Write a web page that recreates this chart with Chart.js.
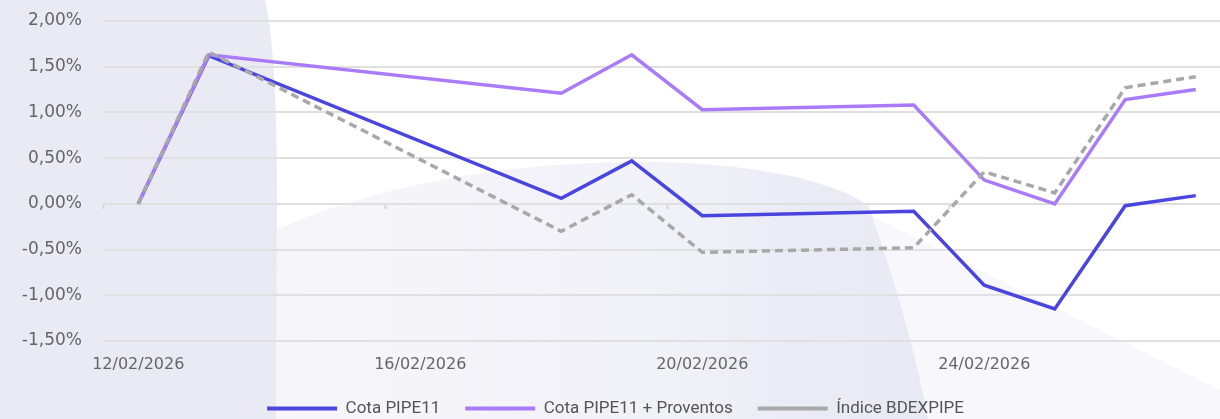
<!DOCTYPE html>
<html>
<head>
<meta charset="utf-8">
<script src="https://cdn.jsdelivr.net/npm/chart.js@4.4.1/dist/chart.umd.min.js"></script>
<style>
html,body{margin:0;padding:0;background:#fff;overflow:hidden;}
#wrap{position:relative;width:1220px;height:419px;overflow:hidden;}
#bg{position:absolute;left:0;top:0;}
#c{position:absolute;left:0;top:0;}
</style>
</head>
<body>
<div id="wrap">
<svg id="bg" width="1220" height="419" xmlns="http://www.w3.org/2000/svg">
  <defs>
    <linearGradient id="blob" x1="272" y1="0" x2="930" y2="0" gradientUnits="userSpaceOnUse">
      <stop offset="0" stop-color="#f6f6fa"/>
      <stop offset="0.6" stop-color="#f1f1f8"/>
      <stop offset="0.78" stop-color="#ececf6"/>
      <stop offset="1" stop-color="#e9e9f5"/>
    </linearGradient>
  </defs>
  <path d="M870,215 L1220,390 L1220,419 L920,419 Z" fill="#f8f8fc"/>
  <path d="M272,232 C380,182 520,160 660,162 C760,165 830,180 868,205 C895,280 915,350 928,419 L272,419 Z" fill="url(#blob)"/>
  <path d="M0,0 L265,0 C272,30 277,90 277,200 L276,419 L0,419 Z" fill="#eaeaf5"/>
</svg>
<canvas id="c" width="1266" height="419"></canvas>
</div>
<script>
// ---- data ----
const days = [12, 13, 18, 19, 20, 23, 24, 25, 26, 27];
const cotaPipe = [0, 1.62, 0.06, 0.47, -0.13, -0.08, -0.89, -1.15, -0.02, 0.09];
const cotaProventos = [0, 1.63, 1.21, 1.63, 1.03, 1.08, 0.26, 0.00, 1.14, 1.25];
const indiceBdex = [0, 1.66, -0.30, 0.10, -0.53, -0.48, 0.35, 0.12, 1.27, 1.39];
const xTickDays = [12, 16, 20, 24];
const xTickLabels = ['12/02/2026', '16/02/2026', '20/02/2026', '24/02/2026'];
const xMarkDays = [11.5, 15.5, 19.5, 23.5];
const seriesNames = ['Cota PIPE11', 'Cota PIPE11 + Proventos', 'Índice BDEXPIPE'];

const toPoints = arr => arr.map((v, i) => ({ x: days[i], y: v }));
const tickFont = { family: "'DejaVu Sans', sans-serif", size: 16 };

new Chart(document.getElementById('c'), {
  type: 'line',
  data: {
    datasets: [
      { label: seriesNames[0], data: toPoints(cotaPipe), borderColor: '#4b45e0', backgroundColor: '#4b45e0',
        borderWidth: 3.5, pointRadius: 0, tension: 0, order: 3 },
      { label: seriesNames[1], data: toPoints(cotaProventos), borderColor: '#a97bf8', backgroundColor: '#a97bf8',
        borderWidth: 3.5, pointRadius: 0, tension: 0, order: 2 },
      { label: seriesNames[2], data: toPoints(indiceBdex), borderColor: '#a8a8a8', backgroundColor: '#a8a8a8',
        borderWidth: 3.5, borderDash: [8, 5], pointRadius: 0, tension: 0, order: 1 }
    ]
  },
  options: {
    responsive: false,
    animation: false,
    devicePixelRatio: 1,
    layout: { padding: { top: 21, right: 35, left: 0, bottom: 0 } },
    scales: {
      x: {
        type: 'linear', min: 11.5, max: 27.5,
        afterBuildTicks: s => { s.ticks = xTickDays.map(v => ({ value: v })); },
        afterFit: s => { s.height = 34; },
        ticks: {
          autoSkip: false, maxRotation: 0, padding: 14.4, color: '#666', font: tickFont,
          callback: v => xTickLabels[xTickDays.indexOf(v)]
        },
        grid: { display: false, drawTicks: false },
        border: { display: false }
      },
      x2: {
        type: 'linear', axis: 'x', position: { y: 0 }, min: 11.5, max: 27.5,
        afterBuildTicks: s => { s.ticks = xMarkDays.map(v => ({ value: v })); },
        ticks: { display: false },
        grid: { display: true, drawOnChartArea: false, drawTicks: true, tickLength: 5, tickWidth: 2, tickColor: '#d6d6d6' },
        border: { display: false }
      },
      y: {
        min: -1.5, max: 2,
        afterFit: s => { s.width = 103; s.paddingTop = 0; s.paddingBottom = 0; },
        ticks: {
          stepSize: 0.5, padding: 21, color: '#666', font: { family: "'DejaVu Sans', sans-serif", size: 17 },
          callback: v => v.toFixed(2).replace('.', ',') + '%'
        },
        grid: { color: '#e0e0e0', lineWidth: 2, drawTicks: false },
        border: { display: false }
      }
    },
    plugins: {
      tooltip: { enabled: false },
      legend: {
        position: 'bottom',
        maxHeight: 44,
        labels: {
          usePointStyle: true, pointStyle: 'line', pointStyleWidth: 70, padding: 25,
          color: '#555', font: { family: "'Roboto', sans-serif", size: 17 },
          sort: (a, b) => a.datasetIndex - b.datasetIndex,
          generateLabels: chart => Chart.defaults.plugins.legend.labels.generateLabels(chart)
            .map(l => Object.assign(l, { lineWidth: 4 }))
        }
      }
    }
  }
});
</script>
</body>
</html>
